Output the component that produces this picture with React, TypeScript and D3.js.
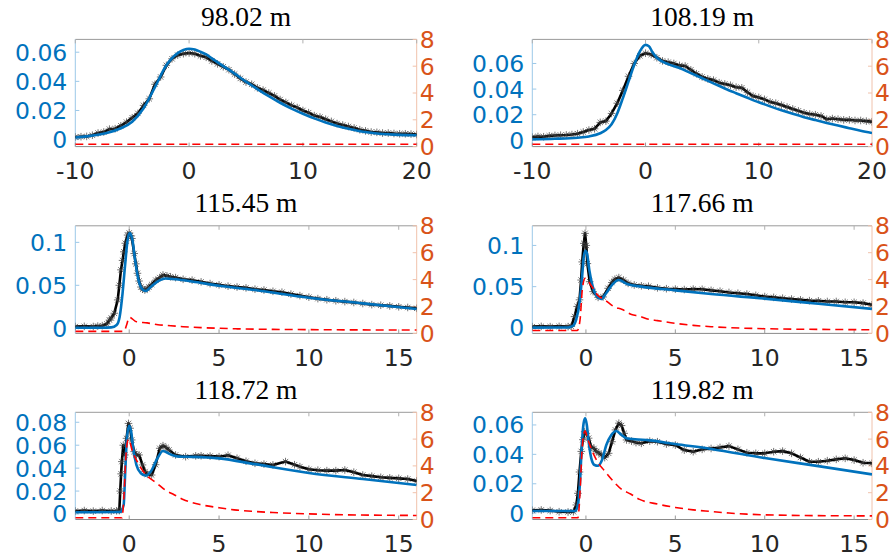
import React from 'react';
import * as d3 from 'd3';

type P = [number, number];

const titles = ['98.02 m', '108.19 m', '115.45 m', '117.66 m', '118.72 m', '119.82 m'];

const p1Obs: P[] = [[-10,0.0018],[-9.5,0.002],[-9,0.0022],[-8.5,0.003],[-8,0.0045],[-7.5,0.0052],[-7,0.0072],[-6.5,0.0075],[-6,0.0095],[-5.5,0.012],[-5,0.015],[-4.5,0.018],[-4,0.0235],[-3.5,0.028],[-3,0.038],[-2.5,0.043],[-2,0.051],[-1.5,0.0555],[-1,0.058],[-0.5,0.059],[0,0.0595],[0.5,0.059],[1,0.0575],[1.5,0.0565],[2,0.054],[2.5,0.052],[3,0.05],[3.5,0.048],[4,0.045],[4.5,0.042],[5,0.0395],[5.5,0.038],[6,0.0355],[6.5,0.034],[7,0.032],[7.5,0.03],[8,0.0275],[8.5,0.0255],[9,0.0235],[9.5,0.022],[10,0.02],[10.5,0.0185],[11,0.0165],[11.5,0.0155],[12,0.014],[12.5,0.0125],[13,0.011],[13.5,0.01],[14,0.009],[14.5,0.008],[15,0.0068],[15.5,0.006],[16,0.0052],[16.5,0.005],[17,0.0045],[17.5,0.0045],[18,0.0042],[18.5,0.004],[19,0.004],[19.5,0.0038],[20,0.0035]];
const p1Fit: P[] = [[-10,0.0015],[-9,0.0022],[-8,0.0033],[-7,0.005],[-6,0.0078],[-5,0.0123],[-4,0.0215],[-3,0.036],[-2,0.051],[-1,0.0594],[-0.5,0.0615],[0,0.0624],[0.5,0.0618],[1,0.0603],[1.5,0.0585],[2,0.0558],[3,0.0505],[4,0.0453],[5,0.0398],[6,0.0347],[7,0.0298],[8,0.0253],[9,0.0213],[10,0.0178],[11,0.0146],[12,0.0118],[13,0.0094],[14,0.0074],[15,0.0058],[16,0.0047],[17,0.0039],[18,0.0034],[19,0.0031],[20,0.003]];
const p1Src: P[] = [[-10,0.18],[20,0.18]];

const p2Obs: P[] = [[-10,0.0025],[-9.5,0.003],[-9,0.0028],[-8.5,0.0035],[-8,0.0038],[-7.5,0.004],[-7,0.0042],[-6.5,0.0045],[-6,0.0052],[-5.5,0.0065],[-5,0.008],[-4.5,0.009],[-4,0.014],[-3.5,0.015],[-3,0.021],[-2.5,0.029],[-2,0.039],[-1.5,0.05],[-1,0.06],[-0.5,0.066],[0,0.068],[0.5,0.067],[1,0.0645],[1.5,0.062],[2,0.061],[2.5,0.06],[3,0.0585],[3.5,0.058],[4,0.055],[4.5,0.052],[5,0.0495],[5.5,0.048],[6,0.047],[6.5,0.045],[7,0.044],[7.5,0.043],[8,0.0415],[8.5,0.041],[9,0.0375],[9.5,0.0345],[10,0.0335],[10.5,0.032],[11,0.03],[11.5,0.029],[12,0.0275],[12.5,0.026],[13,0.0245],[13.5,0.023],[14,0.0215],[14.5,0.0205],[15,0.02],[15.5,0.019],[16,0.0165],[16.5,0.017],[17,0.0165],[17.5,0.016],[18,0.016],[18.5,0.0155],[19,0.0155],[19.5,0.015],[20,0.0145]];
const p2Fit: P[] = [[-10,0.0008],[-8,0.0012],[-6,0.002],[-5,0.003],[-4,0.0055],[-3.5,0.008],[-3,0.0125],[-2.5,0.021],[-2,0.033],[-1.5,0.046],[-1,0.059],[-0.5,0.0695],[0,0.0745],[0.3,0.0735],[0.6,0.069],[1,0.0645],[1.5,0.0615],[2,0.0595],[3,0.0565],[4,0.0525],[5,0.0485],[6,0.0445],[7,0.0405],[8,0.0368],[9,0.0332],[10,0.0297],[11,0.0265],[12,0.0235],[13,0.0207],[14,0.0181],[15,0.0158],[16,0.0136],[17,0.0115],[18,0.0095],[19,0.0075],[20,0.0057]];
const p2Src: P[] = [[-10,0.18],[20,0.18]];

const p3Obs: P[] = [[-3,0.002],[-2.5,0.0022],[-2,0.002],[-1.75,0.0025],[-1.5,0.003],[-1.25,0.005],[-1.1,0.0095],[-1,0.012],[-0.83,0.0175],[-0.64,0.033],[-0.55,0.05],[-0.46,0.068],[-0.37,0.079],[-0.3,0.089],[-0.22,0.099],[-0.09,0.1085],[0,0.111],[0.08,0.108],[0.15,0.1045],[0.28,0.087],[0.37,0.075],[0.46,0.064],[0.55,0.055],[0.65,0.048],[0.75,0.0455],[0.87,0.0445],[1,0.046],[1.1,0.048],[1.25,0.051],[1.48,0.056],[1.7,0.059],[1.88,0.062],[2.1,0.061],[2.3,0.06],[2.58,0.059],[3,0.057],[3.5,0.056],[4,0.054],[4.5,0.052],[5,0.0505],[5.5,0.049],[6,0.048],[6.5,0.047],[7,0.0455],[7.5,0.0445],[8,0.043],[8.5,0.042],[9,0.0398],[9.5,0.038],[10,0.0362],[10.5,0.0345],[11,0.0332],[11.5,0.032],[12,0.031],[12.5,0.03],[13,0.0288],[13.5,0.0275],[14,0.0268],[14.5,0.026],[15,0.025],[15.5,0.0242],[16,0.0232]];
const p3Fit: P[] = [[-3,0.0005],[-1.5,0.0005],[-1,0.001],[-0.7,0.0038],[-0.53,0.0135],[-0.37,0.0407],[-0.22,0.0756],[-0.09,0.1027],[0.03,0.111],[0.18,0.1027],[0.33,0.079],[0.52,0.056],[0.74,0.0453],[0.92,0.0434],[1.2,0.048],[1.66,0.0554],[2.03,0.058],[2.58,0.057],[3.5,0.0545],[5,0.0495],[7,0.0445],[10,0.0355],[13,0.029],[16,0.0225]];
const p3Src: P[] = [[-3,0.15],[-0.3,0.15],[-0.15,0.6],[0,1.2],[0.4,0.87],[1,0.78],[1.6,0.64],[2,0.6],[3,0.5],[4,0.43],[5,0.38],[6,0.34],[8,0.3],[10,0.28],[13,0.26],[16,0.25]];

const p4Obs: P[] = [[-3,0.0015],[-2.5,0.0018],[-2,0.0015],[-1.5,0.0018],[-1,0.0015],[-0.82,0.0018],[-0.64,0.0137],[-0.49,0.026],[-0.36,0.034],[-0.27,0.058],[-0.21,0.08],[-0.12,0.1025],[-0.05,0.1146],[0.02,0.1],[0.08,0.078],[0.21,0.056],[0.4,0.044],[0.68,0.037],[0.96,0.0375],[1.24,0.048],[1.45,0.055],[1.62,0.059],[1.84,0.061],[2.1,0.058],[2.36,0.054],[2.7,0.052],[3.1,0.051],[3.5,0.0505],[4,0.0485],[4.5,0.0475],[5,0.047],[5.5,0.0465],[6,0.047],[6.5,0.0468],[7,0.0455],[7.5,0.0445],[8,0.043],[8.5,0.042],[9,0.041],[9.5,0.0395],[10,0.038],[10.5,0.037],[11,0.036],[11.5,0.035],[12,0.034],[12.5,0.033],[13,0.0328],[13.5,0.032],[14,0.032],[14.5,0.031],[15,0.031],[15.5,0.03],[16,0.028]];
const p4Fit: P[] = [[-3,0.0003],[-1,0.0005],[-0.75,0.002],[-0.55,0.0097],[-0.36,0.03],[-0.23,0.058],[-0.12,0.0863],[-0.03,0.0936],[0.06,0.0904],[0.19,0.07],[0.38,0.05],[0.6,0.0387],[0.85,0.035],[1.13,0.042],[1.5,0.053],[1.82,0.058],[2.34,0.053],[3.1,0.05],[5,0.0455],[7,0.041],[10,0.0355],[13,0.0292],[16,0.023]];
const p4Src: P[] = [[-3,0.22],[-0.48,0.22],[-0.33,1.0],[-0.2,3.3],[-0.05,4.1],[0.3,3.55],[0.68,2.8],[1,2.55],[1.62,1.95],[2,1.8],[2.55,1.4],[3,1.28],[3.5,1.05],[4,0.95],[5,0.75],[6,0.6],[7,0.5],[8,0.43],[10,0.35],[12,0.31],[14,0.29],[16,0.27]];

const p5Obs: P[] = [[-3,0.0026],[-2.5,0.003],[-2,0.0025],[-1.5,0.003],[-1,0.0026],[-0.7,0.0028],[-0.55,0.003],[-0.5,0.02],[-0.45,0.035],[-0.41,0.0457],[-0.33,0.06],[-0.24,0.0515],[-0.15,0.066],[-0.04,0.079],[0.05,0.0748],[0.14,0.0646],[0.27,0.0544],[0.4,0.0515],[0.55,0.0515],[0.74,0.0428],[0.88,0.037],[1.01,0.0346],[1.25,0.034],[1.47,0.043],[1.7,0.0573],[1.88,0.0596],[2.05,0.058],[2.21,0.0558],[2.58,0.0515],[3.14,0.05],[3.7,0.0507],[4,0.0508],[4.5,0.0505],[5,0.05],[5.5,0.0512],[6,0.0486],[6.5,0.046],[7,0.0442],[7.5,0.0435],[8,0.0428],[8.7,0.0457],[9.2,0.043],[9.5,0.0413],[10,0.039],[10.5,0.0382],[11,0.0378],[11.5,0.0378],[12,0.0384],[12.5,0.0365],[13,0.034],[13.5,0.033],[14,0.032],[14.5,0.0315],[15,0.0311],[15.5,0.0305],[16,0.0288]];
const p5Fit: P[] = [[-3,0.0015],[-0.5,0.0018],[-0.31,0.0078],[-0.22,0.037],[-0.13,0.066],[0,0.077],[0.11,0.0718],[0.22,0.0573],[0.4,0.0428],[0.65,0.0355],[0.92,0.0334],[1.2,0.037],[1.57,0.0486],[1.88,0.055],[2.3,0.052],[2.77,0.05],[3.5,0.0498],[5,0.0485],[7,0.0435],[10,0.0358],[13,0.0305],[16,0.0253]];
const p5Src: P[] = [[-3,0.13],[-0.4,0.13],[-0.3,1.6],[-0.18,4.8],[-0.05,6.0],[0.2,5.0],[0.5,4.2],[0.75,3.65],[1,3.25],[1.5,2.75],[2,2.2],[2.5,1.85],[3,1.5],[4,1.1],[5,0.88],[6,0.7],[7,0.6],[8,0.52],[10,0.42],[12,0.35],[14,0.32],[16,0.3]];

const p6Obs: P[] = [[-3,0.002],[-2.5,0.0022],[-2,0.0018],[-1.5,0.001],[-1,0.0008],[-0.7,0.001],[-0.54,0.0056],[-0.45,0.0135],[-0.36,0.028],[-0.26,0.042],[-0.17,0.05],[-0.07,0.0554],[0.02,0.0543],[0.15,0.051],[0.3,0.045],[0.45,0.044],[0.58,0.042],[0.72,0.041],[0.86,0.0396],[1.05,0.0378],[1.27,0.0407],[1.46,0.0486],[1.65,0.0566],[1.84,0.0612],[1.99,0.0596],[2.14,0.0543],[2.27,0.0498],[2.55,0.049],[2.8,0.048],[3.1,0.0475],[3.57,0.049],[4,0.0486],[4.5,0.047],[5,0.0463],[5.5,0.0429],[6,0.0418],[6.5,0.0434],[7,0.044],[7.5,0.0447],[8,0.0456],[8.5,0.0434],[9,0.0411],[9.5,0.0407],[10,0.0407],[10.5,0.0418],[11,0.0422],[11.5,0.0407],[12,0.0379],[12.5,0.035],[13,0.035],[13.5,0.0357],[14,0.0366],[14.5,0.0373],[15,0.0361],[15.5,0.0343],[16,0.0339]];
const p6Fit: P[] = [[-3,0.0015],[-0.6,0.0015],[-0.45,0.0056],[-0.32,0.0237],[-0.23,0.0464],[-0.13,0.0612],[-0.04,0.0645],[0.05,0.06],[0.15,0.0486],[0.3,0.0373],[0.48,0.0328],[0.67,0.0323],[0.9,0.0362],[1.14,0.0464],[1.42,0.0532],[1.7,0.0559],[1.99,0.0532],[2.27,0.051],[2.74,0.0503],[3.57,0.0495],[5,0.047],[7,0.0437],[10,0.0375],[13,0.032],[16,0.0264]];
const p6Src: P[] = [[-3,0.13],[-0.45,0.13],[-0.32,2.3],[-0.23,4.9],[-0.13,6.4],[-0.05,6.6],[0.1,6.0],[0.4,4.95],[0.7,4.2],[1,3.7],[1.5,2.9],[2,2.25],[2.5,1.9],[3,1.5],[4,1.15],[5,0.9],[6,0.72],[7,0.6],[8,0.48],[9,0.4],[10,0.35],[12,0.3],[14,0.28],[16,0.27]];

const obsSeries = [p1Obs, p2Obs, p3Obs, p4Obs, p5Obs, p6Obs];
const fitSeries = [p1Fit, p2Fit, p3Fit, p4Fit, p5Fit, p6Fit];
const srcSeries = [p1Src, p2Src, p3Src, p4Src, p5Src, p6Src];

const xDomains: P[] = [[-10, 20], [-10, 20], [-3, 16], [-3, 16], [-3, 16], [-3, 16]];
const xTickSets = [[-10, 0, 10, 20], [-10, 0, 10, 20], [0, 5, 10, 15], [0, 5, 10, 15], [0, 5, 10, 15], [0, 5, 10, 15]];
const leftDomains: P[] = [[-0.0048, 0.0688], [-0.0049, 0.0788], [-0.006, 0.1193], [-0.0067, 0.1238], [-0.0048, 0.0887], [-0.0043, 0.0686]];
const leftTickSets = [[0, 0.02, 0.04, 0.06], [0, 0.02, 0.04, 0.06], [0, 0.05, 0.1], [0, 0.05, 0.1], [0, 0.02, 0.04, 0.06, 0.08], [0, 0.02, 0.04, 0.06]];
const rightDomain: P = [0, 8];
const rightTicks = [0, 2, 4, 6, 8];

// layout
const W = 895, H = 558;
const COLS = [[75.3, 416.7], [532.3, 872]];
const ROWS = [[39.4, 146.6], [225.8, 333.4], [412.3, 519.5]];

const BLUE = '#0072BD';
const ORANGE = '#D95319';
const TEXT = '#262626';
const TICK_FONT = '"DejaVu Sans", sans-serif';
const TITLE_FONT = '"Liberation Serif", "DejaVu Serif", serif';
const TICK_SIZE = 23.5;

const STAR = 'M-3.8,0H3.8M0,-3.8V3.8M-2.7,-2.7L2.7,2.7M-2.7,2.7L2.7,-2.7';

function Panel({ i }: { i: number }) {
  const col = i % 2, row = Math.floor(i / 2);
  const [x0, x1] = COLS[col];
  const [y0, y1] = ROWS[row];
  const x = d3.scaleLinear().domain(xDomains[i]).range([x0, x1]);
  const yl = d3.scaleLinear().domain(leftDomains[i]).range([y1, y0]);
  const yr = d3.scaleLinear().domain(rightDomain).range([y1, y0]);
  const lineL = d3.line<P>().x(d => x(d[0])).y(d => yl(d[1]));
  const lineFit = d3.line<P>().x(d => x(d[0])).y(d => yl(d[1])).curve(d3.curveMonotoneX);
  const lineR = d3.line<P>().x(d => x(d[0])).y(d => yr(d[1])).curve(d3.curveMonotoneX);
  const clipId = `clip${i}`;
  const tl = 4;
  return (
    <g>
      <defs>
        <clipPath id={clipId}>
          <rect x={x0} y={y0} width={x1 - x0} height={y1 - y0} />
        </clipPath>
      </defs>
      <text x={(x0 + x1) / 2} y={y0 - 13.5} textAnchor="middle" fontFamily={TITLE_FONT} fontSize={27.5} fill="#000">{titles[i]}</text>
      <line x1={x0} x2={x1} y1={y0} y2={y0} stroke="#9a9a9a" strokeWidth={1} />
      <line x1={x0} x2={x1} y1={y1} y2={y1} stroke="#8a8a8a" strokeWidth={1} />
      <line x1={x0} x2={x0} y1={y0} y2={y1} stroke="#9cc8e8" strokeWidth={1} />
      <line x1={x1} x2={x1} y1={y0} y2={y1} stroke="#f0c2ac" strokeWidth={1} />
      {xTickSets[i].map(t => (
        <g key={'xt' + t}>
          <line x1={x(t)} x2={x(t)} y1={y1} y2={y1 - tl} stroke="#9a9a9a" />
          <line x1={x(t)} x2={x(t)} y1={y0} y2={y0 + tl} stroke="#b0b0b0" />
          <text x={x(t)} y={y1 + 24} dy="0.36em" textAnchor="middle" fontFamily={TICK_FONT} fontSize={TICK_SIZE} fill={TEXT}>{String(t)}</text>
        </g>
      ))}
      {leftTickSets[i].map(t => (
        <g key={'yl' + t}>
          <line x1={x0} x2={x0 + tl} y1={yl(t)} y2={yl(t)} stroke="#9cc8e8" />
          <text x={x0 - 8} y={yl(t)} dy="0.36em" textAnchor="end" fontFamily={TICK_FONT} fontSize={TICK_SIZE} fill={BLUE}>{String(t)}</text>
        </g>
      ))}
      {rightTicks.map(t => (
        <g key={'yr' + t}>
          <line x1={x1} x2={x1 - tl} y1={yr(t)} y2={yr(t)} stroke="#f0c2ac" />
          <text x={x1 + 3} y={yr(t)} dy="0.36em" textAnchor="start" fontFamily={TICK_FONT} fontSize={TICK_SIZE} fill={ORANGE}>{String(t)}</text>
        </g>
      ))}
      <g clipPath={`url(#${clipId})`}>
        <path d={lineL(obsSeries[i]) || ''} fill="none" stroke="#000" strokeWidth={2.6} strokeLinejoin="round" />
        {obsSeries[i].map((d, k) => (
          <path key={k} d={STAR} transform={`translate(${x(d[0])},${yl(d[1])})`} fill="none" stroke="#3a3a3a" strokeWidth={0.7} />
        ))}
        <path d={lineFit(fitSeries[i]) || ''} fill="none" stroke={BLUE} strokeWidth={2.6} />
        <path d={lineR(srcSeries[i]) || ''} fill="none" stroke="#FF0000" strokeWidth={1.6} strokeDasharray="8,5" />
      </g>
    </g>
  );
}

export default function App() {
  return (
    <svg width={W} height={H} viewBox={`0 0 ${W} ${H}`} style={{ position: 'absolute', left: 0, top: 0, background: '#fff' }}>
      <rect width={W} height={H} fill="#fff" />
      {titles.map((_, i) => <Panel key={i} i={i} />)}
    </svg>
  );
}
